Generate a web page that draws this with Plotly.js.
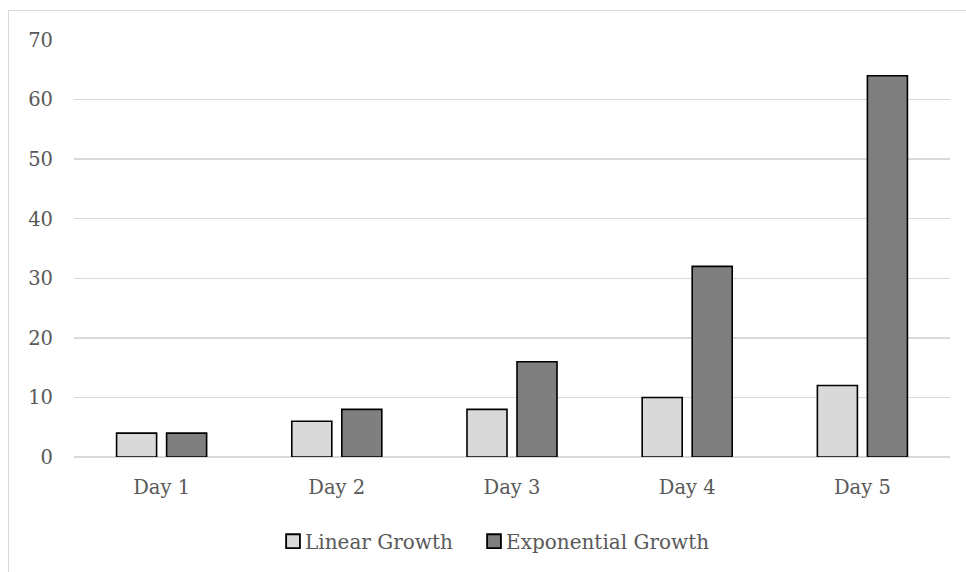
<!DOCTYPE html>
<html>
<head>
<meta charset="utf-8">
<script src="https://cdn.plot.ly/plotly-3.0.1.min.js"></script>
<style>
html,body{margin:0;padding:0;background:#fff;overflow:hidden;}
#frame{position:absolute;left:8px;top:10px;width:1000px;height:600px;border:1.5px solid #d9d9d9;box-sizing:border-box;pointer-events:none;z-index:5;}
#chart{position:absolute;left:0;top:0;width:966px;height:572px;}
</style>
</head>
<body>
<div id="chart"></div>
<div id="frame"></div>
<script>
const categories = ["Day 1", "Day 2", "Day 3", "Day 4", "Day 5"];
const linearGrowth = [4, 6, 8, 10, 12];
const exponentialGrowth = [4, 8, 16, 32, 64];
const yTicks = [0, 10, 20, 30, 40, 50, 60, 70];

const fontFam = "DejaVu Serif, serif";
const textColor = "#595959";
const traces = [
  {type: "bar", name: "Linear Growth", x: categories, y: linearGrowth, legendwidth: 156,
   marker: {color: "#d9d9d9", line: {color: "#000000", width: 1.6}}},
  {type: "bar", name: "Exponential Growth", x: categories, y: exponentialGrowth,
   marker: {color: "#7f7f7f", line: {color: "#000000", width: 1.6}}}
];
const layout = {
  width: 966, height: 572,
  margin: {l: 74, r: 16, t: 40, b: 114},
  paper_bgcolor: "rgba(0,0,0,0)", plot_bgcolor: "#ffffff",
  barmode: "group", bargap: 0.429, bargroupgap: 0.2,
  font: {family: fontFam, size: 19.5, color: textColor},
  xaxis: {type: "category", showgrid: false, showline: false, ticks: "", ticklabelstandoff: 16,
          tickfont: {family: fontFam, size: 19.5, color: textColor}},
  yaxis: {range: [0, 70], tickvals: yTicks, showgrid: true, gridcolor: "#d9d9d9", gridwidth: 1.5,
          zeroline: true, zerolinecolor: "#d9d9d9", zerolinewidth: 1.5, ticks: "", ticklabelstandoff: 20,
          tickfont: {family: fontFam, size: 19.5, color: textColor}},
  showlegend: true,
  legend: {orientation: "h", x: 0.2272, xanchor: "left", y: -0.199, yanchor: "middle",
           font: {family: fontFam, size: 20, color: textColor}, tracegroupgap: 0}
};
Plotly.newPlot("chart", traces, layout, {displayModeBar: false, staticPlot: true}).then(function (gd) {
  gd.querySelectorAll(".legendtext").forEach(function (t) { t.setAttribute("x", 32); });
  gd.querySelectorAll(".legendpoints path").forEach(function (p) { p.setAttribute("transform", (p.getAttribute("transform") || "") + " scale(1.15)"); });
});
</script>
</body>
</html>
